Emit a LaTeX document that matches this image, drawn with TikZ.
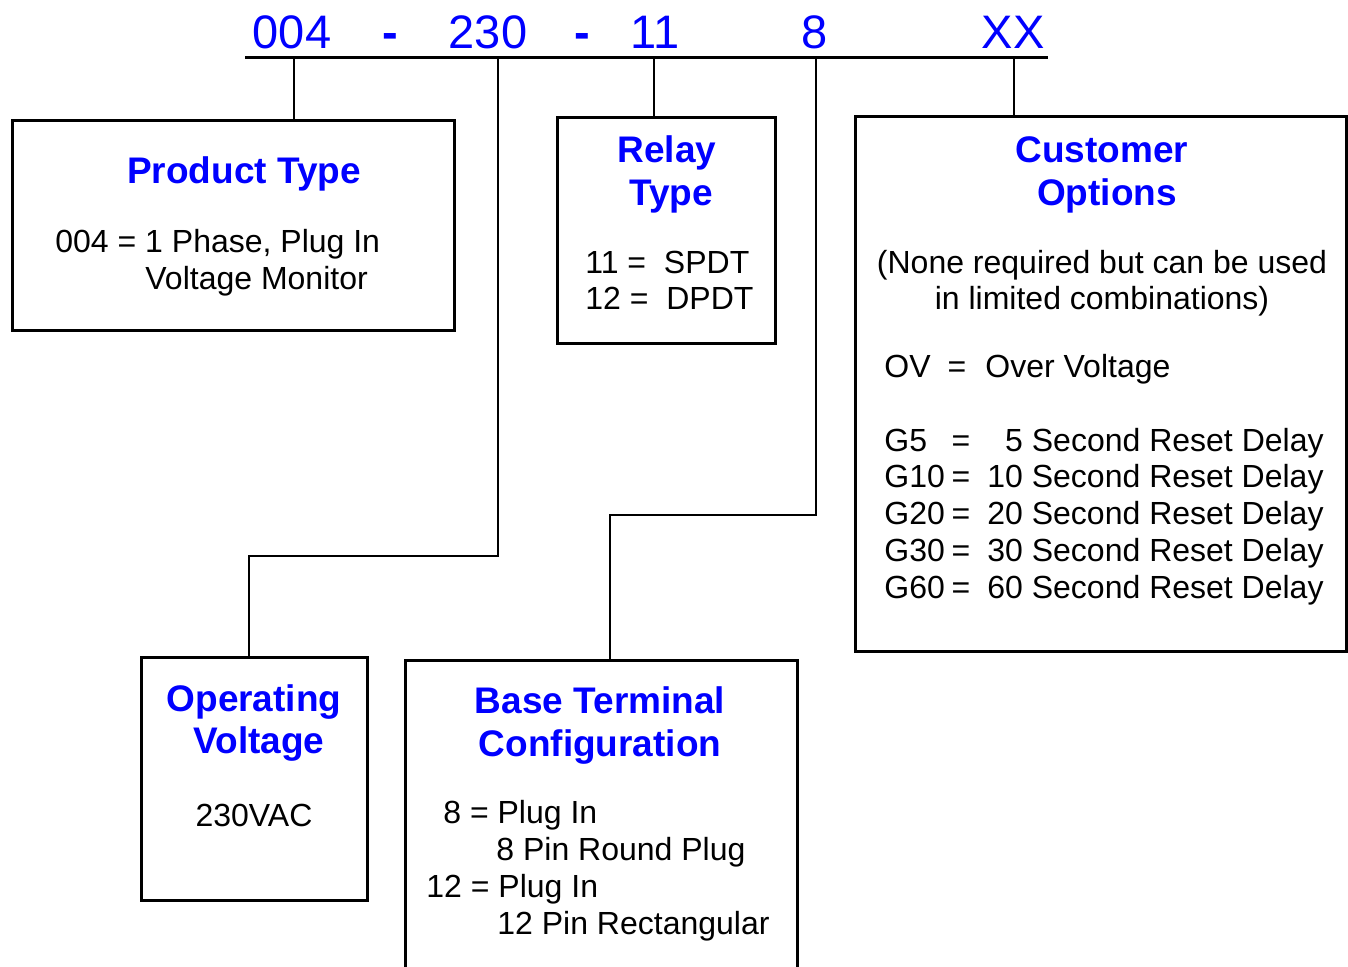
\documentclass[tikz,border=0pt]{standalone}
\usepackage{fontspec}
\setmainfont{Liberation Sans}
\usepackage{tikz}
\usetikzlibrary{positioning,fit,calc}

\begin{document}
\begin{tikzpicture}[x=0.5pt,y=-0.5pt,
  box/.style={draw,line width=1.5pt,inner sep=0pt},
  link/.style={line width=1pt},
  code/.style={text=blue,font=\fontsize{23.5}{28}\selectfont,inner sep=0pt,anchor=base},
  title/.style={text=blue,font=\bfseries\fontsize{18.5}{22}\selectfont,inner sep=0pt,anchor=base},
  body/.style={font=\fontsize{16}{19}\selectfont,inner sep=0pt,anchor=base west}]
\useasboundingbox (0,0) rectangle (1348,966);
\clip (0,0) rectangle (1348,966);
% part number
\node[code] (c004) at (292,48) {004};
\node[code] (d1) at (390,48) {\textbf{-}};
\node[code] (c230) at (488,48) {230};
\node[code] (d2) at (582,48) {\textbf{-}};
\node[code] (c11) at (655,48) {11};
\node[code] (c8) at (815,48) {8};
\node[code] (cXX) at (1013,48) {XX};
\coordinate (h0) at (245,57); \coordinate (h1) at (1048,57);
\draw[line width=1.5pt] (h0) -- (h1);
% boxes
\node[box,fit={(12,120) (454,330)}] (prod) {};
\node[box,fit={(557,117) (775,343)}] (relay) {};
\node[box,fit={(855,116) (1346,651)}] (cust) {};
\node[box,fit={(141,657) (367,900)}] (volt) {};
\node[box,fit={(405,660) (797,1000)}] (base) {};
% connectors
\coordinate (t004) at (294,57); \coordinate (t230) at (498,57);
\coordinate (t11) at (654,57); \coordinate (t8) at (816,57);
\coordinate (tXX) at (1014,57);
\coordinate (jv) at (249,556); \coordinate (jb) at (610,515);
\draw[link] (t004) -- (t004 |- prod.north);
\draw[link] (t230) |- (jv) -- (jv |- volt.north);
\draw[link] (t11) -- (t11 |- relay.north);
\draw[link] (t8) |- (jb) -- (jb |- base.north);
\draw[link] (tXX) -- (tXX |- cust.north);
% product type
\node[title] (pT) at (244,183) {Product Type};
\node[body] (p1) at (55,252) {004 = 1 Phase, Plug In};
\node[body] (p2) at (145,289) {Voltage Monitor};
% relay type
\node[title] (rT1) at (667,162) {Relay};
\node[title] (rT2) at (671,205) {Type};
\node[body] (r1) at (585,273) {11 = \ SPDT};
\node[body] (r2) at (585,309) {12 = \ DPDT};
% customer options
\node[title] (oT1) at (1102,162) {Customer};
\node[title] (oT2) at (1107,205) {Options};
\node[body,anchor=base] (o1) at (1102,273) {(None required but can be used};
\node[body,anchor=base] (o2) at (1102,309) {in limited combinations)};
\node[body] (ov) at (884,377) {OV};
\node[body,anchor=base] (oveq) at (957,377) {=};
\node[body] (ovv) at (985,377) {Over Voltage};
\foreach \k/\v/\yy in {G5/5/451,G10/10/487,G20/20/524,G30/30/561,G60/60/598}{
  \node[body] (\k key) at (884,\yy) {\k};
  \node[body,anchor=base] (\k eq) at (961,\yy) {=};
  \node[body,anchor=base east] (\k val) at (1324,\yy) {\v\ Second Reset Delay};
}
% operating voltage
\node[title] (vT1) at (254,711) {Operating};
\node[title] (vT2) at (259,753) {Voltage};
\node[body,anchor=base] (v1) at (254,826) {230VAC};
% base terminal
\node[title] (bT1) at (600,713) {Base Terminal};
\node[title] (bT2) at (600,756) {Configuration};
\node[body] (b1) at (443,823) {8 = Plug In};
\node[body] (b2) at (496,860) {8 Pin Round Plug};
\node[body] (b3) at (426,897) {12 = Plug In};
\node[body] (b4) at (497,934) {12 Pin Rectangular};
\end{tikzpicture}
\end{document}
